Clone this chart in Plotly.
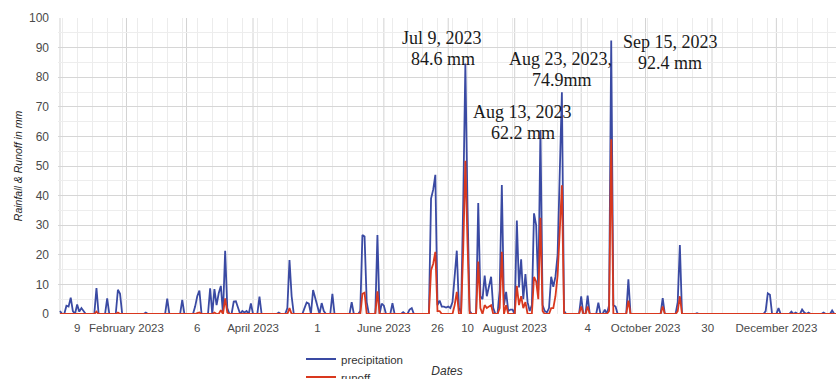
import pandas as pd
import plotly.graph_objects as go

# ---- data ----
precip_dates = ["01-01","01-04","01-05","01-06","01-07","01-09","01-10","01-11","01-12","01-18",
                "01-23","01-28","01-29","02-10","02-20","02-27","03-05","03-06","03-07","03-12",
                "03-14","03-15","03-16","03-17","03-19","03-20","03-23","03-24","03-25","03-27",
                "03-28","03-29","03-31","04-04","04-13","04-17","04-18","04-19","04-25","04-26",
                "04-27","04-29","04-30","05-01","05-03","05-04","05-08","05-17","05-21","05-22",
                "05-23","05-24","05-29","05-31","06-01","06-05","06-10","06-13","06-14","06-23",
                "06-24","06-25","06-26","06-27","06-28","06-29","06-30","07-01","07-02","07-03",
                "07-04","07-05","07-06","07-07","07-08","07-09","07-10","07-11","07-15","07-16",
                "07-17","07-18","07-19","07-20","07-21","07-22","07-25","07-26","07-27","07-28",
                "07-29","07-30","07-31","08-02","08-03","08-04","08-05","08-06","08-07","08-08",
                "08-09","08-10","08-11","08-12","08-13","08-14","08-15","08-16","08-17","08-18",
                "08-19","08-20","08-21","08-22","08-23","08-24","09-01","09-04","09-09","09-12",
                "09-14","09-15","09-16","09-17","09-23","10-09","10-16","10-17","10-25","11-26",
                "11-27","11-28","12-02","12-08","12-10","12-13","12-14","12-16","12-23","12-27"]
precip_mm = [1.0,2.8,2.5,5.5,1.0,3.2,0.8,2.0,1.0,8.8,
             5.3,8.2,6.8,0.5,5.2,4.8,2.5,6.0,7.9,8.7,
             8.4,3.0,7.0,9.5,21.4,2.0,4.2,4.3,2.0,1.0,
             0.5,1.0,3.6,5.9,0.5,2.0,18.2,6.0,2.0,3.9,
             3.5,8.1,5.5,2.0,3.7,1.0,6.8,4.0,1.0,26.7,
             26.2,4.0,26.7,3.5,2.8,3.7,0.6,1.5,2.0,39.0,
             42.0,47.0,3.0,4.5,2.5,2.5,2.2,2.5,2.0,4.0,
             12.0,21.4,2.0,0.5,38.0,84.6,36.0,1.0,37.5,6.0,
             5.0,13.0,6.0,9.5,12.6,2.0,8.0,43.6,3.0,7.5,
             1.0,1.5,1.5,31.6,9.0,18.5,5.0,13.5,4.0,1.0,
             3.0,34.0,30.0,8.0,62.2,3.0,1.0,0.5,2.0,12.6,
             9.2,12.6,20.0,46.0,74.9,1.0,6.0,6.2,3.8,1.5,
             3.0,92.4,3.0,2.5,11.7,5.4,4.0,23.3,0.3,1.0,
             7.0,6.5,2.0,0.8,0.5,1.5,0.5,0.5,0.5,1.2]

runoff_dates = ["01-18","01-28","03-06","03-07","03-14","03-17","03-19","03-20","04-18","05-22",
                "05-23","05-29","06-23","06-24","06-25","06-26","06-27","07-04","07-05","07-08",
                "07-09","07-10","07-15","07-16","07-18","07-19","07-20","07-21","07-25","07-26",
                "07-28","08-02","08-03","08-04","08-05","08-06","08-10","08-11","08-12","08-13",
                "08-14","08-18","08-19","08-20","08-21","08-22","08-23","09-01","09-04","09-14",
                "09-15","09-23","10-09","10-16","10-17"]
runoff_mm = [0.8,0.5,0.3,0.5,0.5,1.3,5.3,0.5,2.0,6.8,
             7.2,7.7,14.8,17.0,21.0,1.0,1.0,3.0,7.5,22.0,
             51.8,24.0,17.7,2.0,3.0,2.0,2.5,3.0,2.0,21.0,
             3.0,9.5,3.0,6.0,2.0,4.0,12.5,11.0,5.0,32.5,
             1.0,2.0,2.0,6.0,13.0,28.0,43.5,2.5,2.5,1.0,
             59.0,4.5,2.5,1.0,6.0]

tick_dates = ["2023-01-09","2023-02-01","2023-03-06","2023-04-01","2023-05-01","2023-06-01",
              "2023-06-26","2023-07-10","2023-08-01","2023-09-04","2023-10-01","2023-10-30",
              "2023-12-01"]
tick_labels = ["9","February 2023","6","April 2023","1","June 2023","26","10",
               "August 2023","4","October 2023","30","December 2023"]

peak_labels = [("Jul 9, 2023", "84.6 mm"), ("Aug 23, 2023,", "74.9mm"),
               ("Aug 13, 2023", "62.2 mm"), ("Sep 15, 2023", "92.4 mm")]

# ---- build daily series ----
days = pd.date_range("2023-01-01", "2023-12-31", freq="D")
precip = pd.Series(0.0, index=days)
precip[pd.to_datetime(["2023-" + d for d in precip_dates])] = precip_mm
runoff = pd.Series(0.0, index=days)
runoff[pd.to_datetime(["2023-" + d for d in runoff_dates])] = runoff_mm

BLUE = "#3a4aa3"
RED = "#d9381e"
FONT = "Arial, Liberation Sans, sans-serif"

fig = go.Figure()
fig.add_trace(go.Scatter(x=precip.index, y=precip.values, mode="lines", name="precipitation",
                         line=dict(color=BLUE, width=1.8), legend="legend"))
fig.add_trace(go.Scatter(x=runoff.index, y=runoff.values, mode="lines", name="runoff",
                         line=dict(color=RED, width=1.8), legend="legend2"))

# plot geometry (px)
W, H = 836, 379
L, R, T, B = 58, 0, 18, 65
PW, PH = W - L - R, H - T - B

def px(xp):
    return (xp - L) / PW

def py(yp):
    return (H - B - yp) / PH

start = pd.Timestamp("2023-01-01") - pd.Timedelta(days=0.93)
end = pd.Timestamp("2023-01-01") + pd.Timedelta(days=361.8)

# month gridlines
for m in pd.date_range("2023-01-01", "2023-12-01", freq="MS"):
    fig.add_shape(type="line", x0=m, x1=m, y0=0, y1=1, xref="x", yref="paper",
                  line=dict(color="#d2d2d2", width=1), layer="below")

fig.update_xaxes(range=[start, end], tickmode="array", tickvals=tick_dates, ticktext=tick_labels,
                 showgrid=False, zeroline=False, showline=False, ticks="", automargin=False,
                 ticklabelstandoff=5,
                 tickfont=dict(family=FONT, size=11.5, color="#4a4a4a"),
                 minor=dict(tickmode="linear", tick0="2023-01-02", dtick=7 * 86400000,
                            showgrid=True, gridcolor="#ececec", gridwidth=1, ticks=""),
                 title=dict(text="<i>Dates</i>", font=dict(family=FONT, size=12, color="#333"),
                            standoff=34))
fig.update_yaxes(range=[0, 100], dtick=10, showgrid=True, gridcolor="#d6d6d6", gridwidth=1,
                 zeroline=False, showline=False, ticks="", automargin=False,
                 ticklabelstandoff=8,
                 tickfont=dict(family=FONT, size=12, color="#4a4a4a"),
                 minor=dict(dtick=5, showgrid=True, gridcolor="#ededed", gridwidth=1),
                 title=dict(text="<i>Rainfall &amp; Runoff in mm</i>",
                            font=dict(family=FONT, size=10.5, color="#222"), standoff=4))

# peak annotations (text lines centred at pixel positions)
label_pos = [((442, 37.5), (443, 58.5)), ((560, 59), (562, 80)),
             ((522.5, 111.5), (522.5, 133)), ((670, 41.5), (670, 63))]
for (t1, t2), (p1, p2) in zip(peak_labels, label_pos):
    for txt, (xx, yy) in ((t1, p1), (t2, p2)):
        fig.add_annotation(text=txt, x=px(xx), y=py(yy), xref="paper", yref="paper",
                           xanchor="center", yanchor="middle", showarrow=False,
                           font=dict(family="Liberation Serif, Times New Roman, serif",
                                     size=18, color="#1a1a1a"))

legend_style = dict(xanchor="left", yanchor="middle", orientation="v",
                    bgcolor="rgba(0,0,0,0)",
                    font=dict(family=FONT, size=11.5, color="#333"))
fig.update_layout(width=W, height=H, margin=dict(l=L, r=R, t=T, b=B, autoexpand=False),
                  plot_bgcolor="white", paper_bgcolor="white",
                  showlegend=True,
                  legend=dict(x=px(301), y=py(359), **legend_style),
                  legend2=dict(x=px(301), y=py(377), **legend_style))

fig.write_html("out.html")
